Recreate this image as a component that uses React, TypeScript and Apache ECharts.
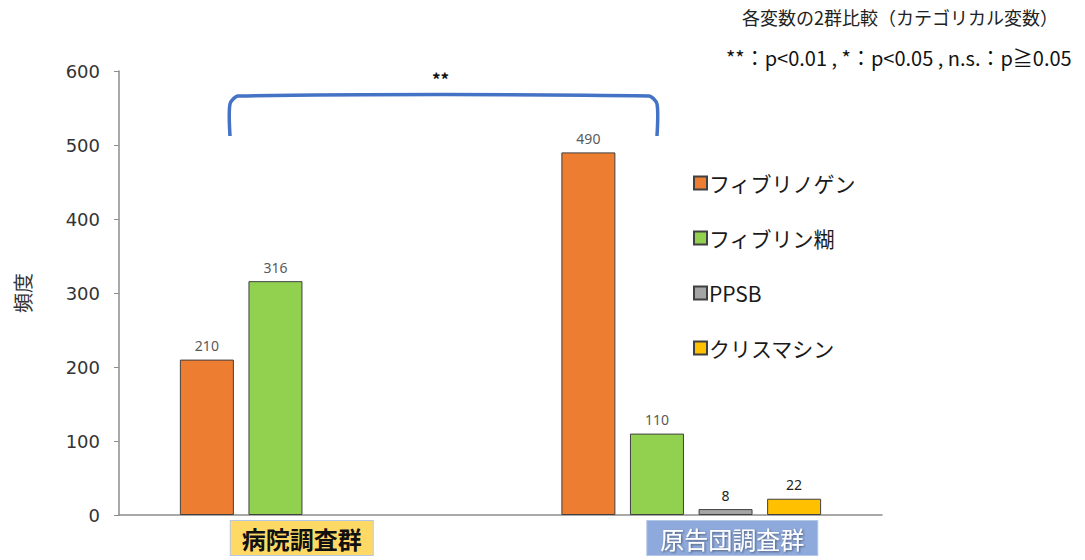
import React, { useEffect, useRef } from "react";
import * as echarts from "echarts";

const categories = ["病院調査群", "原告団調査群"];
const seriesNames = ["フィブリノゲン", "フィブリン糊", "PPSB", "クリスマシン"];
const fibrinogen = [210, 490];
const fibrinGlue = [316, 110];
const ppsb: (number | string)[] = ["-", 8];
const christmassin: (number | string)[] = ["-", 22];
const seriesColors = ["#ED7D31", "#92D050", "#A5A5A5", "#FFC000"];
const yTicks = { min: 0, max: 600, interval: 100 };
const noteLine1 = "各変数の2群比較（カテゴリカル変数）";
const noteLine2 = "**：p<0.01 , *：p<0.05 , n.s.：p≧0.05";
const sigMark = "**";
const yName = "頻度";

const JP = "'Noto Sans CJK JP', 'Noto Sans', sans-serif";

export default function App() {
  const ref = useRef<HTMLDivElement>(null);
  useEffect(() => {
    document.body.style.margin = "0";
    if (!ref.current) return;
    const chart = echarts.init(ref.current, null, { renderer: "svg" });
    const allData = [fibrinogen, fibrinGlue, ppsb, christmassin];
    const series = allData.map((d, i) => ({
      name: seriesNames[i],
      type: "bar",
      data: d,
      barWidth: 54,
      barGap: "27%",
      itemStyle: { color: seriesColors[i], borderColor: "#404040", borderWidth: 1 },
      label: {
        show: true,
        position: "top",
        distance: 7,
        fontSize: 14,
        fontFamily: "'Noto Sans', sans-serif",
        color: i >= 2 ? "#222222" : "#595959",
      },
    }));
    chart.setOption({
      animation: false,
      grid: {
        left: 119,
        right: 203,
        top: 71,
        bottom: 45,
        containLabel: false,
        outerBoundsMode: "none",
      },
      legend: {
        orient: "vertical",
        left: 688,
        top: 167,
        itemWidth: 13,
        itemHeight: 13,
        itemGap: 33,
        icon: "rect",
        data: seriesNames,
        textStyle: {
          fontSize: 21,
          lineHeight: 22,
          fontFamily: JP,
          color: "#1a1a1a",
          padding: [0, 0, 0, -3],
        },
      },
      xAxis: {
        type: "category",
        data: categories,
        axisTick: { show: false },
        axisLine: { lineStyle: { color: "#8c8c8c", width: 1.5 } },
        axisLabel: {
          margin: 10,
          interval: 0,
          formatter: (v: string, idx: number) =>
            idx === 0 ? `{a|${v}}{s1|}` : `{s2|}{b|${v}}`,
          rich: {
            a: {
              fontSize: 24,
              lineHeight: 26,
              fontWeight: "bold",
              fontFamily: JP,
              color: "#111111",
              backgroundColor: "#FFD966",
              borderColor: "#B4C7E7",
              borderWidth: 1,
              padding: [5, 11, 5, 11],
            },
            b: {
              fontSize: 24,
              lineHeight: 26,
              fontFamily: JP,
              color: "#ffffff",
              backgroundColor: "#8EA9DB",
              borderColor: "#B4C7E7",
              borderWidth: 1,
              padding: [5, 13, 5, 13],
              textShadowColor: "rgba(0,0,0,0.45)",
              textShadowBlur: 2,
              textShadowOffsetX: 1,
              textShadowOffsetY: 1,
            },
            s1: { width: 16 },
            s2: { width: 82 },
          },
        },
      },
      yAxis: {
        type: "value",
        min: yTicks.min,
        max: yTicks.max,
        interval: yTicks.interval,
        name: yName,
        nameLocation: "middle",
        nameRotate: 90,
        nameGap: 87,
        nameTextStyle: { fontSize: 20, fontFamily: JP, color: "#333333" },
        splitLine: { show: false },
        axisLine: { show: true, lineStyle: { color: "#8c8c8c", width: 1.5 } },
        axisTick: { show: true, length: 5, lineStyle: { color: "#8c8c8c" } },
        axisLabel: {
          fontSize: 18,
          margin: 19,
          fontFamily: "'DejaVu Sans', sans-serif",
          color: "#333333",
        },
      },
      series,
      graphic: [
        {
          type: "text",
          left: 742,
          top: 8,
          style: { text: noteLine1, fontSize: 18, fontFamily: JP, fill: "#222222" },
        },
        {
          type: "text",
          left: 726,
          top: 47,
          style: { text: noteLine2, fontSize: 20, fontFamily: JP, fill: "#111111" },
        },
        {
          type: "text",
          left: 432,
          top: 70,
          style: { text: sigMark, fontSize: 17, fontWeight: "bold", fontFamily: JP, fill: "#111111" },
        },
        {
          type: "polyline",
          shape: {
            points: [
              [230, 136],
              [230, 104],
              [238, 96],
              [649, 96],
              [657, 104],
              [657, 136],
            ],
            smooth: 0.25,
          },
          style: { stroke: "#4472C4", lineWidth: 3.5, fill: "none" },
        },
      ],
    });
    return () => chart.dispose();
  }, []);
  return <div ref={ref} style={{ width: 1085, height: 560 }} />;
}
